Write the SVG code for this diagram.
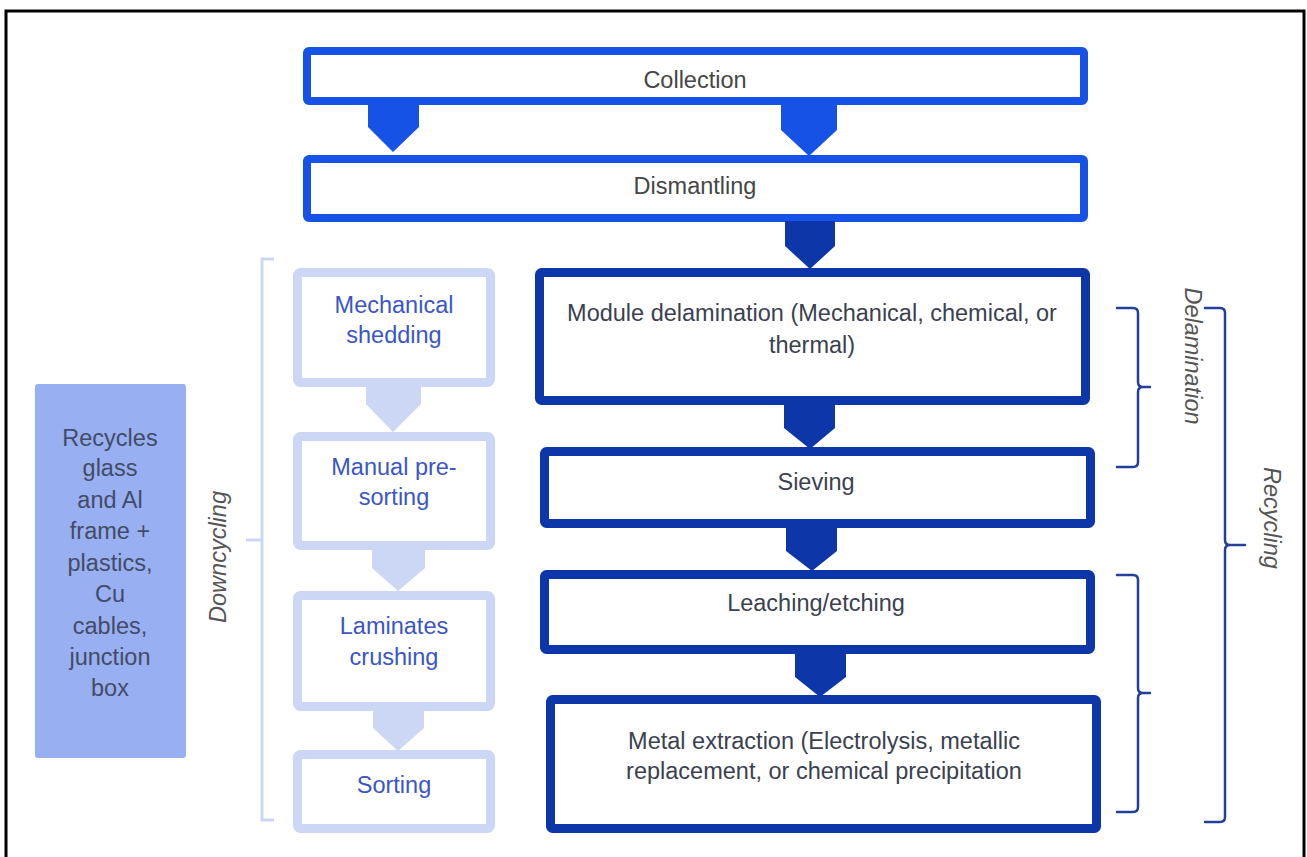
<svg xmlns="http://www.w3.org/2000/svg" width="1307" height="857" viewBox="0 0 1307 857">
  <style>
    text { font-family: "Liberation Sans", Arial, sans-serif; font-size: 23.5px; text-anchor: middle; }
    .top { fill: #ffffff; stroke: #1652e6; stroke-width: 8; }
    .main { fill: #ffffff; stroke: #0d36a8; stroke-width: 9; }
    .side { fill: #ffffff; stroke: #cbd7f5; stroke-width: 9; }
    .t-top { fill: #464646; }
    .t-main { fill: #3b4150; }
    .t-side { fill: #3b56c6; }
    .t-note { fill: #434b66; }
    .label { fill: #555555; font-style: italic; }
    .a-top { fill: #1652e6; }
    .a-main { fill: #0d36a8; }
    .a-side { fill: #cbd7f5; }
    .br-main { fill: none; stroke: #22409a; stroke-width: 2.5; stroke-linejoin: round; stroke-linecap: round; }
    .br-side { fill: none; stroke: #cbd7f5; stroke-width: 3; }
  </style>

  <rect x="0" y="0" width="1307" height="857" fill="#ffffff"/>
  <!-- outer frame -->
  <rect x="6" y="11" width="1298" height="880" fill="none" stroke="#000000" stroke-width="3"/>

  <g id="nodes">
    <g id="collection">
      <rect class="top" x="307" y="51" width="777" height="50" rx="2"/>
      <text class="t-top" x="695" y="88">Collection</text>
    </g>
    <g id="dismantling">
      <rect class="top" x="307" y="159" width="777" height="59" rx="2"/>
      <text class="t-top" x="695" y="194">Dismantling</text>
    </g>

    <g id="module-delamination">
      <rect class="main" x="539.5" y="272.5" width="546" height="128" rx="2"/>
      <text class="t-main" x="812" y="321">Module delamination (Mechanical, chemical, or</text>
      <text class="t-main" x="812" y="353">thermal)</text>
    </g>
    <g id="sieving">
      <rect class="main" x="544.5" y="451.5" width="546" height="72" rx="2"/>
      <text class="t-main" x="816" y="490">Sieving</text>
    </g>
    <g id="leaching">
      <rect class="main" x="544.5" y="574.5" width="546" height="75" rx="2"/>
      <text class="t-main" x="816" y="611">Leaching/etching</text>
    </g>
    <g id="metal-extraction">
      <rect class="main" x="550.5" y="699.5" width="546" height="129" rx="2"/>
      <text class="t-main" x="824" y="749">Metal extraction (Electrolysis, metallic</text>
      <text class="t-main" x="824" y="779">replacement, or chemical precipitation</text>
    </g>

    <g id="mechanical-shedding">
      <rect class="side" x="297.5" y="272.5" width="193" height="110" rx="3"/>
      <text class="t-side" x="394" y="313">Mechanical</text>
      <text class="t-side" x="394" y="343">shedding</text>
    </g>
    <g id="manual-presorting">
      <rect class="side" x="297.5" y="436.5" width="193" height="109" rx="3"/>
      <text class="t-side" x="394" y="475">Manual pre-</text>
      <text class="t-side" x="394" y="505">sorting</text>
    </g>
    <g id="laminates-crushing">
      <rect class="side" x="297.5" y="595.5" width="193" height="111" rx="3"/>
      <text class="t-side" x="394" y="634">Laminates</text>
      <text class="t-side" x="394" y="665">crushing</text>
    </g>
    <g id="sorting">
      <rect class="side" x="297.5" y="754.5" width="193" height="74" rx="3"/>
      <text class="t-side" x="394" y="793">Sorting</text>
    </g>

    <g id="recycles-note">
      <rect x="35" y="384" width="151" height="374" rx="3" fill="#98b0f1"/>
      <text class="t-note" x="110" y="446">Recycles</text>
      <text class="t-note" x="110" y="476">glass</text>
      <text class="t-note" x="110" y="508">and Al</text>
      <text class="t-note" x="110" y="539">frame +</text>
      <text class="t-note" x="110" y="571">plastics,</text>
      <text class="t-note" x="110" y="602">Cu</text>
      <text class="t-note" x="110" y="634">cables,</text>
      <text class="t-note" x="110" y="665">junction</text>
      <text class="t-note" x="110" y="696">box</text>
    </g>

    <g id="downcycling-label">
      <path class="br-side" d="M274,259 L262,259 L262,820 L274,820 M246,540 L262,540"/>
      <text class="label" transform="translate(218,557) rotate(-90)" dy="0.35em">Downcycling</text>
    </g>
    <g id="delamination-label">
      <path class="br-main" d="M1117,308 L1133,308 Q1138,308 1138,313 L1138,382 Q1138,387 1143,387 L1150,387 M1143,387 Q1138,387 1138,392 L1138,462 Q1138,467 1133,467 L1117,467"/>
      <text class="label" transform="translate(1193,356) rotate(90)" dy="0.35em">Delamination</text>
    </g>
    <g id="extraction-bracket">
      <path class="br-main" d="M1117,575 L1133,575 Q1138,575 1138,580 L1138,688 Q1138,693 1143,693 L1150,693 M1143,693 Q1138,693 1138,698 L1138,807 Q1138,812 1133,812 L1117,812"/>
    </g>
    <g id="recycling-label">
      <path class="br-main" d="M1205,308 L1220,308 Q1225,308 1225,313 L1225,540 Q1225,545 1230,545 L1245,545 M1230,545 Q1225,545 1225,550 L1225,817 Q1225,822 1220,822 L1205,822"/>
      <text class="label" transform="translate(1272,518) rotate(90)" dy="0.35em">Recycling</text>
    </g>
  </g>

  <g id="connectors">
    <polygon class="a-top" points="368,104 419,104 419,127 393,152 368,127"/>
    <polygon class="a-top" points="781,104 837,104 837,130 809,156 781,130"/>
    <polygon class="a-main" points="785,221 835,221 835,246 810,269 785,246"/>
    <polygon class="a-main" points="784,404 835,404 835,428 810,449 784,428"/>
    <polygon class="a-main" points="786,527 837,527 837,551 812,571 786,551"/>
    <polygon class="a-main" points="795,653 846,653 846,677 820,697 795,677"/>
    <polygon class="a-side" points="366,386 421,386 421,404 393,432 366,404"/>
    <polygon class="a-side" points="372,549 425,549 425,568 398,591 372,568"/>
    <polygon class="a-side" points="373,710 424,710 424,728 398,751 373,728"/>
  </g>
</svg>
